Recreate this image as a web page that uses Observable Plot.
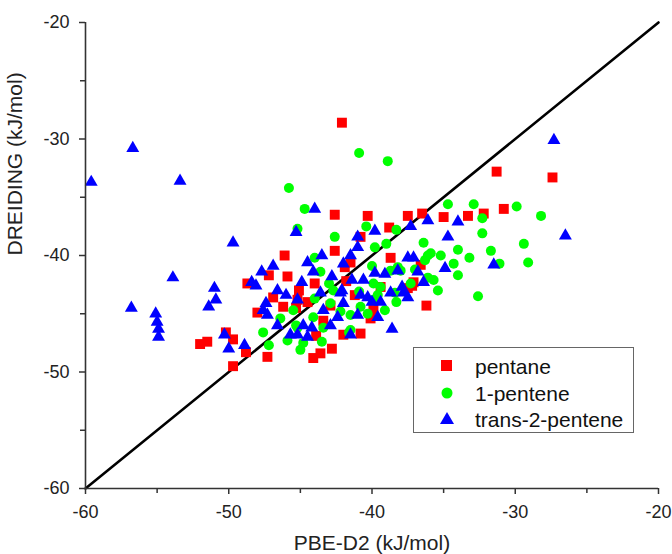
<!DOCTYPE html>
<html><head><meta charset="utf-8">
<script src="https://cdn.jsdelivr.net/npm/d3@7"></script>
<script src="https://cdn.jsdelivr.net/npm/@observablehq/plot@0.6"></script>
<style>
body{margin:0;background:#fff;font-family:Arial,"Liberation Sans",sans-serif}
#wrap{position:relative;width:672px;height:554px;overflow:hidden}
#wrap svg{overflow:visible}
#legend{position:absolute;left:413px;top:347px;width:219px;height:84px;border:1px solid #666;background:#fff;box-sizing:content-box}
.row{position:absolute;left:0;height:26px;width:219px}
.row svg{position:absolute;left:24px;top:0}
.row span{position:absolute;left:61px;top:1px;font-size:21px;line-height:24px;color:#111;white-space:nowrap}
</style></head>
<body><div id="wrap"></div>
<script>
const seriesNames = ["pentane", "1-pentene", "trans-2-pentene"];
const seriesColors = ["#ff0000", "#00ff00", "#0000ff"];
const xTicks = [-60, -50, -40, -30, -20];
const yTicks = [-60, -50, -40, -30, -20];
const minorTicks = [-55, -45, -35, -25];
const diagonal = [[-60, -60], [-20, -20]];
const xTitle = "PBE-D2 (kJ/mol)";
const yTitle = "DREIDING (kJ/mol)";

const pentane = [[-42.1,-28.6],[-31.3,-32.8],[-27.4,-33.3],[-30.8,-36.0],[-32.2,-36.4],[-33.3,-36.6],[-35.0,-36.7],[-36.5,-36.4],[-37.5,-36.6],[-40.3,-36.6],[-42.6,-36.5],[-38.8,-37.6],[-38.7,-40.2],[-36.6,-40.8],[-42.6,-39.6],[-46.1,-40.0],[-45.9,-41.8],[-47.2,-41.7],[-48.7,-42.4],[-46.9,-43.6],[-48.0,-44.9],[-46.2,-44.4],[-45.2,-43.8],[-52.0,-47.6],[-51.5,-47.4],[-50.2,-46.6],[-49.7,-47.2],[-48.8,-48.3],[-47.3,-48.7],[-49.7,-49.5],[-44.1,-48.8],[-43.6,-48.4],[-42.8,-48.0],[-40.1,-45.4],[-36.2,-44.3],[-37.2,-42.6],[-37.1,-42.3],[-37.5,-42.8],[-42.0,-46.8],[-44.0,-42.4],[-45.1,-43.0],[-45.3,-44.5],[-41.9,-41.0],[-39.4,-42.7],[-41.5,-40.6],[-44.5,-44.0],[-43.4,-45.6],[-40.8,-38.4],[-40.8,-46.7],[-41.2,-43.4],[-42.9,-44.3],[-41.8,-42.2],[-39.9,-44.6],[-43.9,-46.9]];

const pentene1 = [[-40.9,-31.2],[-38.9,-31.9],[-45.8,-34.2],[-44.7,-36.0],[-45.2,-37.7],[-42.6,-38.4],[-40.4,-37.5],[-38.3,-37.8],[-39.8,-39.3],[-39.0,-39.0],[-44.0,-40.2],[-43.6,-41.4],[-34.7,-35.6],[-32.9,-35.6],[-29.9,-35.8],[-28.2,-36.6],[-32.3,-36.8],[-32.3,-38.1],[-29.4,-39.0],[-31.7,-39.6],[-31.1,-40.7],[-29.1,-40.6],[-33.2,-40.2],[-34.0,-39.5],[-36.4,-38.9],[-35.9,-39.8],[-35.2,-40.0],[-34.3,-40.7],[-34.0,-41.7],[-40.0,-40.9],[-38.2,-41.0],[-36.1,-41.9],[-36.1,-40.0],[-35.7,-42.1],[-35.4,-43.0],[-32.6,-43.5],[-37.3,-42.4],[-38.3,-44.0],[-39.1,-44.7],[-38.4,-43.2],[-39.6,-43.4],[-39.9,-43.8],[-39.4,-42.7],[-38.7,-41.3],[-38.0,-41.3],[-41.6,-46.6],[-40.3,-45.0],[-40.8,-44.4],[-45.3,-46.0],[-45.0,-48.1],[-44.1,-45.3],[-43.4,-46.2],[-42.9,-44.1],[-44.0,-43.7],[-43.0,-42.4],[-41.5,-45.1],[-39.9,-42.4],[-41.5,-46.4],[-43.5,-47.4],[-44.8,-47.5],[-42.7,-43.0],[-46.4,-45.4],[-47.6,-46.6],[-47.2,-47.7],[-45.9,-47.3],[-45.2,-46.2],[-45.5,-44.7],[-36.3,-40.4],[-42.2,-44.8],[-40.9,-43.1],[-37.0,-41.2]];

const trans2pentene = [[-59.6,-33.7],[-56.7,-30.8],[-53.4,-33.6],[-49.7,-38.9],[-53.9,-41.9],[-56.8,-44.5],[-55.1,-45.0],[-55.0,-45.7],[-54.9,-46.3],[-54.9,-47.0],[-51.0,-42.8],[-50.9,-43.8],[-51.4,-44.4],[-50.3,-46.8],[-50.0,-48.0],[-48.9,-47.7],[-47.7,-41.4],[-46.9,-40.9],[-48.4,-42.3],[-48.1,-42.6],[-44.0,-36.0],[-45.3,-38.0],[-44.5,-40.6],[-43.5,-40.0],[-42.0,-40.7],[-41.5,-40.0],[-41.0,-38.4],[-39.8,-37.9],[-41.0,-39.3],[-27.3,-30.1],[-26.5,-38.3],[-31.5,-40.8],[-34.0,-37.1],[-34.7,-38.4],[-36.1,-37.0],[-37.3,-37.5],[-37.5,-40.2],[-37.1,-40.2],[-36.8,-41.4],[-34.9,-41.1],[-39.1,-41.6],[-38.6,-46.3],[-36.4,-42.3],[-37.5,-43.6],[-39.8,-41.5],[-38.7,-43.2],[-40.0,-44.0],[-41.0,-45.1],[-41.5,-46.8],[-39.4,-44.0],[-40.8,-43.4],[-42.1,-43.0],[-44.1,-41.4],[-38.2,-41.3],[-44.9,-42.3],[-43.6,-43.2],[-42.2,-43.2],[-41.4,-42.1],[-40.3,-43.6],[-37.8,-43.2],[-42.0,-44.1],[-45.2,-43.8],[-43.4,-44.7],[-42.4,-45.3],[-44.8,-46.0],[-44.2,-46.2],[-42.9,-46.0],[-45.2,-46.8],[-44.5,-47.0],[-37.9,-42.7],[-47.4,-44.1],[-47.3,-45.1],[-46.6,-46.0],[-45.7,-46.8],[-46.0,-43.4],[-46.6,-43.0],[-47.6,-44.7],[-40.6,-42.1],[-42.8,-41.8],[-39.6,-45.3]];

const axisColor = "#333";
const fmt = d => String(d);
const chart = Plot.plot({
  width: 672,
  height: 554,
  marginLeft: 85,
  marginRight: 14,
  marginTop: 22,
  marginBottom: 66,
  style: {fontFamily: "Arial, 'Liberation Sans', sans-serif", color: "#222", background: "#fff", overflow: "visible"},
  x: {domain: [-60, -20]},
  y: {domain: [-60, -20]},
  marks: [
    Plot.line(diagonal, {x: d => d[0], y: d => d[1], stroke: "#000", strokeWidth: 2.6}),
    Plot.dot(pentane, {x: d => d[0], y: d => d[1], symbol: "square", r: 5.6, fill: seriesColors[0]}),
    Plot.dot(pentene1, {x: d => d[0], y: d => d[1], symbol: "circle", r: 5, fill: seriesColors[1]}),
    Plot.dot(trans2pentene, {x: d => d[0], y: d => d[1], symbol: "triangle", r: 4.8, fill: seriesColors[2]}),
    Plot.ruleX([-60], {stroke: axisColor, strokeWidth: 1.6}),
    Plot.ruleY([-60], {stroke: axisColor, strokeWidth: 1.6}),
    Plot.axisX(xTicks, {tickSize: 6, tickPadding: 11, fontSize: 18, tickFormat: fmt, stroke: axisColor, strokeWidth: 1.5, label: null}),
    Plot.axisX(minorTicks, {tickSize: 5, text: null, stroke: axisColor, strokeWidth: 1.5, label: null}),
    Plot.axisY(yTicks, {tickSize: 6, tickPadding: 10, fontSize: 18, tickFormat: fmt, stroke: axisColor, strokeWidth: 1.5, label: null}),
    Plot.axisY(minorTicks, {tickSize: 5, text: null, stroke: axisColor, strokeWidth: 1.5, label: null}),
    Plot.text([xTitle], {text: d => d, frameAnchor: "bottom", dy: 61, fontSize: 21, fill: "#222"}),
    Plot.text([yTitle], {text: d => d, frameAnchor: "left", rotate: -90, dx: -70, fontSize: 21, fill: "#222"})
  ]
});
const wrap = document.getElementById("wrap");
wrap.appendChild(chart);

// legend
const legend = document.createElement("div");
legend.id = "legend";
const symbols = ["square", "circle", "triangle"];
seriesNames.forEach((name, i) => {
  const row = document.createElement("div");
  row.className = "row";
  row.style.top = (6 + i * 26.5) + "px";
  let shape;
  if (symbols[i] === "square") shape = `<rect x="3" y="6" width="11" height="11" fill="${seriesColors[i]}"/>`;
  else if (symbols[i] === "circle") shape = `<circle cx="9" cy="12" r="5.5" fill="${seriesColors[i]}"/>`;
  else shape = `<path d="M9,5 L16,17 L2,17 Z" fill="${seriesColors[i]}"/>`;
  row.innerHTML = `<svg width="20" height="24">${shape}</svg><span>${name}</span>`;
  legend.appendChild(row);
});
wrap.appendChild(legend);
</script>
</body></html>
